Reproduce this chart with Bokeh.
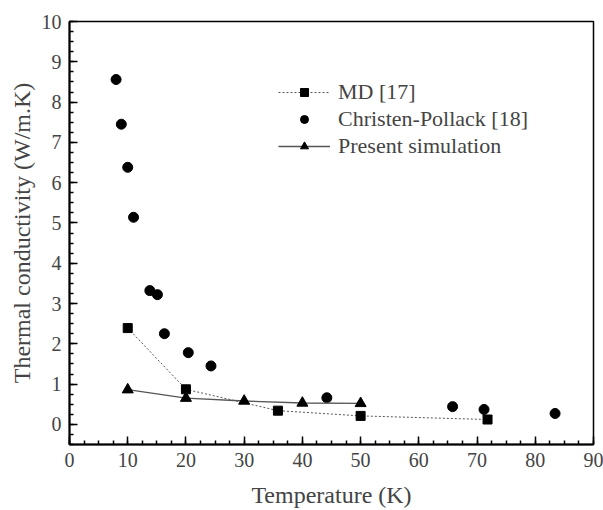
from bokeh.plotting import figure
from bokeh.models import Range1d, SingleIntervalTicker, Legend, LegendItem
from bokeh.embed import file_html
from bokeh.resources import INLINE

# Data
md_T = [10.0, 20.0, 35.8, 50.0, 71.8]
md_K = [2.39, 0.87, 0.34, 0.21, 0.12]

cp_T = [8.0, 8.9, 10.0, 11.0, 13.8, 15.1, 16.3, 20.4, 24.3, 44.2, 65.8, 71.2, 83.4]
cp_K = [8.56, 7.45, 6.38, 5.14, 3.32, 3.22, 2.25, 1.78, 1.45, 0.66, 0.44, 0.37, 0.27]

ps_T = [10, 20, 30, 40, 50]
ps_K = [0.86, 0.65, 0.58, 0.53, 0.52]

labels = ["MD [17]", "Christen-Pollack [18]", "Present simulation"]

FONT = "'Liberation Serif', 'Times New Roman', serif"

p = figure(width=603, height=510, output_backend="svg", toolbar_location=None,
           x_range=Range1d(0, 90), y_range=Range1d(-0.5, 10),
           min_border_left=69, min_border_right=10, min_border_top=21, min_border_bottom=64)

p.xgrid.visible = False
p.ygrid.visible = False
p.outline_line_color = "black"
p.outline_line_width = 1.5
p.background_fill_color = "white"
p.border_fill_color = "white"

md_line = p.line(md_T, md_K, line_color="#555555", line_width=1, line_dash="2 2")
md_sc = p.scatter(md_T, md_K, marker="square", size=9, fill_color="black", line_color="black")

cp_sc = p.scatter(cp_T, cp_K, marker="circle", size=10, fill_color="black", line_color="black")

ps_line = p.line(ps_T, ps_K, line_color="#555555", line_width=1.3)
ps_sc = p.scatter(ps_T, ps_K, marker="triangle", size=11, fill_color="black", line_color="black")

for ax, iv in ((p.xaxis[0], 10), (p.yaxis[0], 1)):
    ax.ticker = SingleIntervalTicker(interval=iv, num_minor_ticks=4)
    ax.major_tick_in = 8
    ax.major_tick_out = 0
    ax.minor_tick_in = 4
    ax.minor_tick_out = 0
    ax.axis_line_width = 2
    ax.major_tick_line_width = 1.5
    ax.minor_tick_line_width = 1.5
    ax.major_label_text_font = FONT
    ax.major_label_text_font_size = "20px"
    ax.axis_label_text_font = FONT
    ax.axis_label_text_font_size = "24px"
    ax.axis_label_text_font_style = "normal"

p.xaxis.axis_label = "Temperature (K)"
p.yaxis.axis_label = "Thermal conductivity (W/m.K)"
p.xaxis.major_label_standoff = 8
p.xaxis.axis_label_standoff = 12
p.yaxis.major_label_standoff = 8
p.yaxis.axis_label_standoff = 4

legend = Legend(items=[
    LegendItem(label=labels[0], renderers=[md_line, md_sc]),
    LegendItem(label=labels[1], renderers=[cp_sc]),
    LegendItem(label=labels[2], renderers=[ps_line, ps_sc]),
], location=(209, 285))
legend.border_line_alpha = 0
legend.background_fill_alpha = 0
legend.padding = 0
legend.margin = 0
legend.spacing = 1
legend.glyph_width = 52
legend.glyph_height = 20
legend.label_height = 20
legend.label_standoff = 8
legend.label_text_font = FONT
legend.label_text_font_size = "22px"
p.add_layout(legend, "center")

open("out.html", "w").write(file_html(p, INLINE))
